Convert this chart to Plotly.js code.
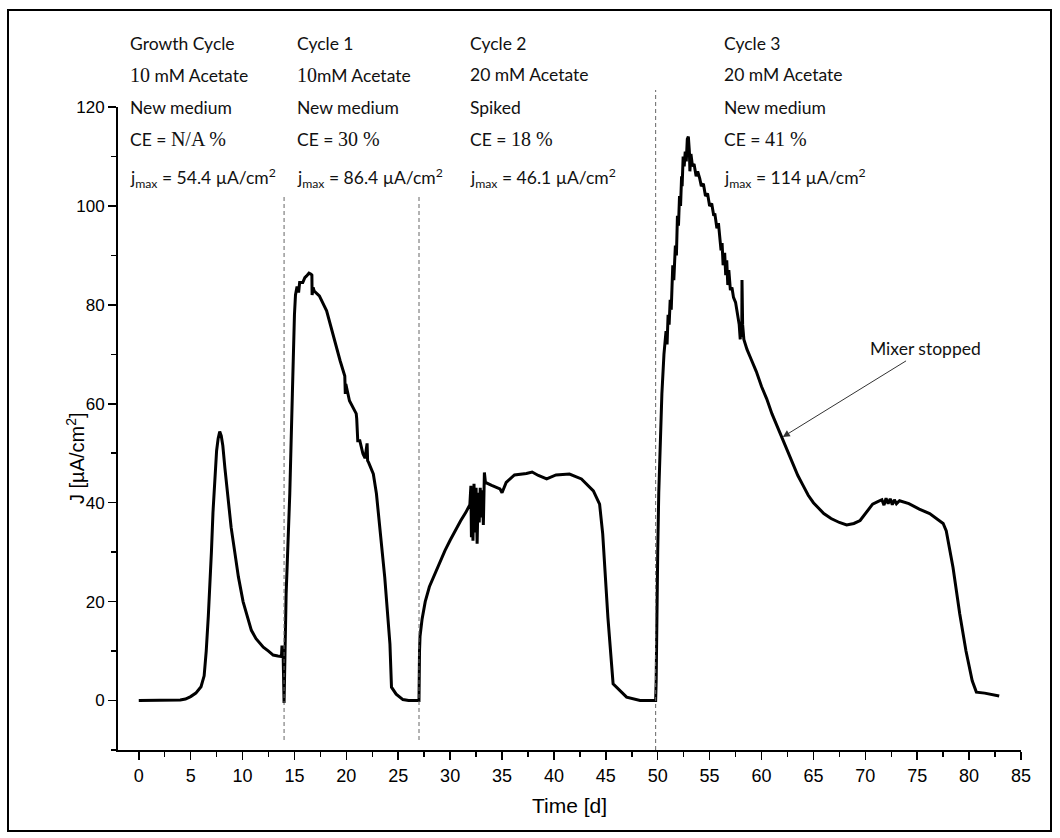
<!DOCTYPE html>
<html>
<head>
<meta charset="utf-8">
<script src="https://cdn.plot.ly/plotly-3.0.1.min.js"></script>
<style>
  html, body { margin: 0; padding: 0; background: #fff; }
  #chart { width: 1060px; height: 838px; }
</style>
</head>
<body>
<div id="chart"></div>
<script>
// ---- Data ----
const growthTime = [0, 1, 2, 3, 4, 4.5, 5, 5.5, 6, 6.3, 6.5, 6.7, 6.85, 7.0, 7.15, 7.3, 7.5, 7.65, 7.8, 7.95, 8.1, 8.3, 8.6, 8.9, 9.25, 9.6, 10.05, 10.5, 10.85, 11.3, 12.0, 12.5, 12.95, 13.4, 13.75, 13.8, 13.85, 13.9, 13.95];
const growthJ    = [0, 0, 0, 0, 0.1, 0.3, 0.8, 1.5, 2.8, 5, 10, 17, 23, 30, 38, 44, 50.5, 53, 54.4, 53.5, 51.5, 47, 40.5, 35, 30, 25, 20, 16.5, 14.2, 12.5, 10.8, 10, 9.2, 9, 8.9, 11.1, 9.2, 10.5, 3];

const cycle1Time = [14.0, 14.2, 14.55, 14.8, 14.87, 15.0, 15.1, 15.25, 15.4, 15.5, 15.8, 16.0, 16.15, 16.4, 16.6, 16.68, 16.7, 16.8, 16.9, 17.4, 18.1, 18.7, 19.4, 19.85, 19.9, 19.95, 20.3, 20.95, 21.0, 21.1, 21.3, 21.6, 21.8, 22.0, 22.05, 22.15, 22.6, 22.9, 23.2, 23.7, 24.2, 24.35, 24.8, 25.45, 26.0, 26.9, 27.0];
const cycle1J    = [-0.5, 21.6, 41.8, 62, 69.3, 78, 82, 83.7, 82.5, 84.5, 84.5, 85.5, 85.8, 86.4, 86.2, 86, 82, 83.5, 82.8, 81.8, 78.8, 74, 68.7, 65.6, 62, 64, 60.6, 58, 57, 52.5, 52.5, 49.9, 49, 52, 48.5, 48.1, 45.8, 41.8, 35, 24.9, 11.4, 2.7, 1.3, 0.2, 0, 0, 0];

const cycle2Time = [27.05, 27.1, 27.3, 27.6, 28.0, 28.5, 29.0, 29.5, 30.0, 30.5, 31.0, 31.5, 31.9, 32.0, 32.05, 32.1, 32.2, 32.3, 32.4, 32.5, 32.6, 32.7, 32.8, 32.9, 33.0, 33.1, 33.2, 33.3, 33.4, 34.0, 34.8, 35.0, 35.4, 36.2, 37.35, 37.9, 38.5, 39.3, 40.2, 41.5, 42.65, 43.8, 44.4, 44.7, 45.2, 45.7, 46.2, 47.0, 48.3, 49.8];
const cycle2J    = [10, 13, 16.5, 20, 23, 25.5, 28, 30.3, 32.4, 34.5, 36.3, 38, 39.6, 43.4, 33, 42.5, 32.3, 43.8, 34, 43, 31.7, 42, 36, 43, 37, 42.5, 35.5, 46.1, 44.1, 43.5, 42.8, 42.0, 44.1, 45.6, 45.9, 46.2, 45.5, 44.8, 45.6, 45.8, 44.8, 42.4, 39.7, 33.7, 16.8, 3.4, 2.4, 0.7, 0, 0];

const cycle3Time = [49.85, 49.9, 50.0, 50.1, 50.25, 50.4, 50.6, 50.8, 50.9, 51.0, 51.1, 51.2, 51.3, 51.45, 51.55, 51.7, 51.8, 51.9, 52.0, 52.1, 52.2, 52.3, 52.35, 52.45, 52.55, 52.65, 52.75, 52.85, 52.95, 53.05, 53.1, 53.2, 53.35, 53.5, 53.7, 53.85, 54.05, 54.2, 54.4, 54.6, 54.8, 55.0, 55.2, 55.4, 55.5, 55.7, 55.85, 56.0, 56.1, 56.2, 56.3, 56.45, 56.55, 56.65, 56.75, 56.85, 57.0, 57.15, 57.3, 57.5, 57.7, 57.85, 57.95, 58.0, 58.05, 58.1, 58.12, 58.18, 58.3, 58.6, 59.0, 59.5, 60.0, 60.5, 61.0, 61.5, 62.0, 62.5, 63.0, 63.5, 64.0, 64.5, 65.0, 65.5, 66.0, 66.7, 67.5, 68.2, 68.9, 69.5, 70.1, 70.7, 71.2, 71.6, 71.8, 72.0, 72.2, 72.4, 72.6, 72.8, 73.0, 73.3, 74.2, 75.2, 76.2, 77.2, 77.5, 77.8, 78.1, 78.45, 79.1, 79.7, 80.3, 80.7, 81.5, 82.3, 82.9];
const cycle3J    = [4, 18, 30, 42, 55, 62, 70, 74.7, 72, 78, 76, 81, 79, 88, 85, 92, 90, 98, 96, 102, 100, 106, 104, 110, 108, 111, 109, 113.5, 114, 111, 107, 110.5, 108, 108.5, 106, 107, 105.5, 104, 104.5, 102, 102.5, 100, 100.5, 98, 98.5, 95.5, 96.5, 93, 91, 92.5, 88, 90.5, 86, 89, 84, 87, 83, 83.5, 81.5, 80.5, 78, 76, 73, 76.5, 73.5, 75, 85, 76, 73, 71, 69, 66.5, 63.5, 61, 58, 55.5, 53, 50.5, 48, 45.5, 43.5, 41.5, 40, 38.8, 37.8, 36.8, 36, 35.5, 35.8, 36.4, 38, 39.7, 40.2, 40.6, 39.5, 40.9, 39.8, 40.8, 39.6, 40.6, 39.8, 40.4, 39.8, 38.7, 37.8, 36.4, 35.8, 34.3, 31, 26.9, 17.5, 10, 4, 1.7, 1.5, 1.2, 0.9];

const xTickVals = [0, 5, 10, 15, 20, 25, 30, 35, 40, 45, 50, 55, 60, 65, 70, 75, 80, 85];
const yTickVals = [0, 20, 40, 60, 80, 100, 120];
const cycleBoundaries = [14.0, 27.0, 49.8];

const SERIF = "<span style=\"font-family:'Liberation Serif';font-size:20px\">";
const headerColumns = [
  ["Growth Cycle", SERIF + "10</span> mM Acetate", "New medium", "CE = " + SERIF + "N/A %</span>", "j<sub>max</sub> = 54.4 µA/cm<sup>2</sup>"],
  ["Cycle 1", SERIF + "10</span>mM Acetate", "New medium", "CE = " + SERIF + "30 %</span>", "j<sub>max</sub> = 86.4 µA/cm<sup>2</sup>"],
  ["Cycle 2", "20 mM Acetate", "Spiked", "CE = " + SERIF + "18 %</span>", "j<sub>max</sub> = 46.1 µA/cm<sup>2</sup>"],
  ["Cycle 3", "20 mM Acetate", "New medium", "CE = " + SERIF + "41 %</span>", "j<sub>max</sub> = 114 µA/cm<sup>2</sup>"]
];

// ---- Build ----
const time = growthTime.concat(cycle1Time, cycle2Time, cycle3Time);
const J = growthJ.concat(cycle1J, cycle2J, cycle3J);

const trace = {
  x: time, y: J, type: 'scatter', mode: 'lines',
  line: { color: '#000', width: 3 },
  hoverinfo: 'skip', showlegend: false
};

// plot area geometry (px)
const W = 1060, H = 838;
const mL = 118, mR = 39, mT = 107, mB = 88;
const pw = W - mL - mR, ph = H - mT - mB;
const px2paperX = p => (p - mL) / pw;
const py2paperY = p => (H - mB - p) / ph;

const TEXTFONT = { family: 'Lato, "Open Sans", sans-serif', size: 17.5, color: '#111' };
const colX = [128, 295, 468, 722];
const rowY = [43, 75, 107, 139, 178];
const annotations = [];
headerColumns.forEach((col, ci) => {
  col.forEach((txt, ri) => {
    annotations.push({
      xref: 'paper', yref: 'paper',
      x: px2paperX(colX[ci]), y: py2paperY(rowY[ri]),
      xanchor: 'left', yanchor: 'middle',
      text: txt, showarrow: false, font: TEXTFONT
    });
  });
});
// Mixer stopped label with arrow pointing at the curve
annotations.push({
  xref: 'x', yref: 'y', x: 62.05, y: 53.3, axref: 'x', ayref: 'y', ax: 75.8, ay: 71.1,
  text: 'Mixer stopped', showarrow: true, arrowhead: 2, arrowsize: 1.4, arrowwidth: 1,
  arrowcolor: '#333', font: TEXTFONT
});
// y axis title
annotations.push({
  xref: 'paper', yref: 'paper', x: px2paperX(75), y: py2paperY(458),
  text: 'J [µA/cm<sup>2</sup>]', textangle: -90, showarrow: false,
  xanchor: 'center', yanchor: 'middle',
  font: { family: '"Liberation Sans", Arial, sans-serif', size: 20, color: '#000' }
});

const shapes = cycleBoundaries.map((b, i) => ({
  type: 'line', xref: 'x', yref: 'paper',
  x0: b, x1: b,
  y0: i === 2 ? 0 : py2paperY(740),
  y1: i === 2 ? py2paperY(90) : py2paperY(196),
  line: { color: '#666', width: 1, dash: '4px,3px' }
}));
// outer frame
shapes.push({
  type: 'rect', xref: 'paper', yref: 'paper',
  x0: px2paperX(8), x1: px2paperX(1051), y0: py2paperY(831), y1: py2paperY(10),
  line: { color: '#000', width: 2 }, fillcolor: 'rgba(0,0,0,0)'
});

const AXFONT = '"Liberation Sans", Arial, sans-serif';
const layout = {
  width: W, height: H,
  margin: { l: mL, r: mR, t: mT, b: mB, pad: 0 },
  paper_bgcolor: '#fff', plot_bgcolor: '#fff',
  showlegend: false,
  xaxis: {
    range: [-2, 85], tickmode: 'array', tickvals: xTickVals,
    ticks: 'outside', ticklen: 8, tickwidth: 1.5, tickcolor: '#000',
    showline: true, linewidth: 2, linecolor: '#000', mirror: false,
    showgrid: false, zeroline: false,
    minor: { tick0: 0, dtick: 2.5, ticks: 'outside', ticklen: 5, tickwidth: 1.5, tickcolor: '#000', showgrid: false },
    tickfont: { family: AXFONT, size: 18, color: '#000' },
    title: { text: 'Time [d]', standoff: 14, font: { family: AXFONT, size: 21, color: '#000' } }
  },
  yaxis: {
    range: [-10, 120], tickmode: 'array', tickvals: yTickVals,
    ticks: 'outside', ticklen: 8, tickwidth: 1.5, tickcolor: '#000',
    showline: true, linewidth: 2, linecolor: '#000',
    showgrid: false, zeroline: false,
    minor: { tick0: 0, dtick: 10, ticks: 'outside', ticklen: 5, tickwidth: 1.5, tickcolor: '#000', showgrid: false },
    tickfont: { family: AXFONT, size: 17, color: '#000' }
  },
  annotations: annotations,
  shapes: shapes
};

Plotly.newPlot('chart', [trace], layout, { displayModeBar: false, staticPlot: true });
</script>
</body>
</html>
